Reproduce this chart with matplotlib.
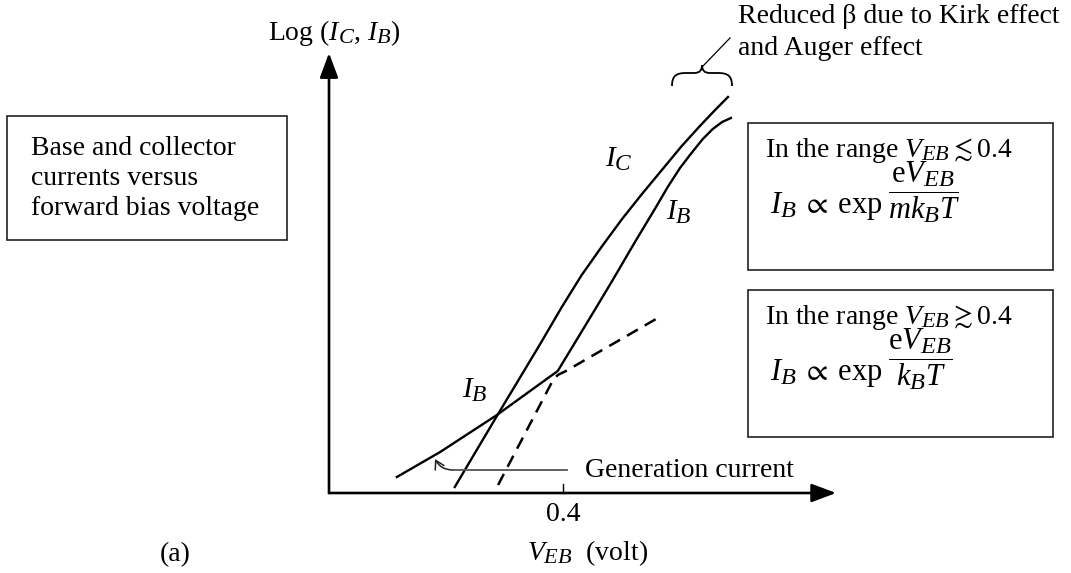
import matplotlib.pyplot as plt
import matplotlib.transforms as mtransforms
import matplotlib._mathtext as mathtext_impl
from matplotlib.patches import Rectangle, PathPatch, FancyArrowPatch
from matplotlib.path import Path

plt.rcParams['font.family'] = ['Liberation Serif', 'DejaVu Serif']
plt.rcParams['mathtext.fontset'] = 'custom'
plt.rcParams['mathtext.rm'] = 'Liberation Serif'
plt.rcParams['mathtext.it'] = 'Liberation Serif:italic'
plt.rcParams['mathtext.fallback'] = 'stix'
# subscripts in the original are a bit larger than mathtext's default
mathtext_impl.SHRINK_FACTOR = 0.8

# x: V_EB in volt, y: log current in arbitrary units (0 on the x axis)
ic_v = [0.215, 0.287, 0.361, 0.398, 0.432, 0.467, 0.501, 0.535, 0.569, 0.603, 0.634,
        0.660, 0.682]
ic_log = [0.06, 0.77, 1.49, 1.86, 2.18, 2.47, 2.74, 2.99, 3.23, 3.47, 3.67,
          3.83, 3.96]

ib_v = [0.116, 0.190, 0.287, 0.391, 0.446, 0.484, 0.523, 0.557, 0.579, 0.600, 0.621,
        0.639, 0.656, 0.672, 0.687]
ib_log = [0.16, 0.41, 0.78, 1.22, 1.75, 2.12, 2.51, 2.84, 3.06, 3.25, 3.41,
          3.54, 3.64, 3.71, 3.75]

# dashed extensions (ideal diffusion current below the knee, generation current above it)
ext_v = [0.289, 0.383, 0.391, 0.405, 0.562]
ext_log = [0.08, 1.13, 1.18, 1.22, 1.75]

tick_v = 0.4
x_end = 0.867
y_end = 4.40

W, H = 1071, 573


def main():
    fig = plt.figure(figsize=(W / 100, H / 100), dpi=100)
    ax = fig.add_axes([0, 0, 1, 1])
    ax.set_xlim(-329 / 585, (W - 329) / 585)
    ax.set_ylim(-0.80, 4.93)
    ax.axis('off')

    # pixel frame (y downwards) for the annotations
    px = mtransforms.Affine2D().scale(1 / W, -1 / H).translate(0, 1) + fig.transFigure

    # axes with arrows
    arrow = dict(arrowstyle='-|>,head_length=0.75,head_width=0.28', lw=1.9, color='k',
                 shrinkA=0, shrinkB=0, mutation_scale=20)
    ax.annotate('', xy=(0, y_end), xytext=(0, 0), arrowprops=arrow)
    ax.annotate('', xy=(x_end, 0), xytext=(0, 0), arrowprops=arrow)
    ax.plot([tick_v, tick_v], [0, 0.09], color='k', lw=1.0)

    # curves
    ax.plot(ic_v, ic_log, color='k', lw=1.7, solid_joinstyle='round')
    ax.plot(ib_v, ib_log, color='k', lw=1.7, solid_joinstyle='round')
    ax.plot(ext_v, ext_log, color='k', lw=1.8, linestyle=(0, (5, 3.2)))

    fs = 20
    bfs = 22
    ax.text(268, 40, r'Log ($I_C$, $I_B$)', transform=px, fontsize=fs, va='baseline')
    ax.text(563, 521, '0.4', transform=px, fontsize=fs, ha='center', va='baseline')
    ax.text(527, 560, r'$V_{EB}$  (volt)', transform=px, fontsize=fs, va='baseline')
    ax.text(160, 561, '(a)', transform=px, fontsize=fs, va='baseline')

    ax.text(605, 167, r'$I_C$', transform=px, fontsize=21, va='baseline')
    ax.text(666, 220, r'$I_B$', transform=px, fontsize=21, va='baseline')
    ax.text(462, 398, r'$I_B$', transform=px, fontsize=21, va='baseline')

    # left box
    ax.add_patch(Rectangle((7, 116), 280, 124, transform=px, fill=False, ec='#222', lw=1.2))
    for i, line in enumerate(['Base and collector', 'currents versus', 'forward bias voltage']):
        ax.text(31, 155 + 30 * i, line, transform=px, fontsize=fs, va='baseline')

    # right boxes
    boxes = [(123, r'In the range $V_{EB} \lesssim 0.4$', r'$\dfrac{\mathrm{e}V_{EB}}{mk_BT}$'),
             (290, r'In the range $V_{EB} \gtrsim 0.4$', r'$\dfrac{\mathrm{e}V_{EB}}{k_BT}$')]
    for top, head, frac in boxes:
        ax.add_patch(Rectangle((748, top), 305, 147, transform=px, fill=False, ec='#222', lw=1.2))
        ax.text(765, top + 34, head, transform=px, fontsize=fs, va='baseline')
        ax.text(770, top + 90, r'$I_B\;\propto\;\exp$', transform=px, fontsize=bfs, va='baseline')
        ax.text(888, top + 69, frac, transform=px, fontsize=bfs, va='center')

    # brace for the high-current roll-off
    verts = [(672, 86), (672, 76), (676, 73), (686, 73),
             (694, 73),
             (700, 73), (702, 70), (702, 65),
             (702, 70), (704, 73), (710, 73),
             (718, 73),
             (728, 73), (732, 76), (732, 86)]
    codes = [Path.MOVETO, Path.CURVE4, Path.CURVE4, Path.CURVE4,
             Path.LINETO,
             Path.CURVE4, Path.CURVE4, Path.CURVE4,
             Path.CURVE4, Path.CURVE4, Path.CURVE4,
             Path.LINETO,
             Path.CURVE4, Path.CURVE4, Path.CURVE4]
    ax.add_patch(PathPatch(Path(verts, codes), transform=px, fill=False, ec='k', lw=1.3))
    ax.plot([703, 730], [66, 38], transform=px, color='k', lw=0.9)
    ax.text(738, 23, 'Reduced β due to Kirk effect', transform=px, fontsize=fs, va='baseline')
    ax.text(738, 55, 'and Auger effect', transform=px, fontsize=fs, va='baseline')

    # generation current pointer
    ax.plot([567, 452], [470, 470], transform=px, color='#555', lw=1.3)
    ax.add_patch(FancyArrowPatch((453, 470), (435, 459), transform=px,
                                 connectionstyle='arc3,rad=-0.3',
                                 arrowstyle='->,head_length=6,head_width=3.5',
                                 color='#222', lw=1.1, shrinkA=0, shrinkB=0))
    ax.text(585, 477, 'Generation current', transform=px, fontsize=fs, va='baseline')

    fig.savefig('out.png', dpi=100)


if __name__ == '__main__':
    main()
